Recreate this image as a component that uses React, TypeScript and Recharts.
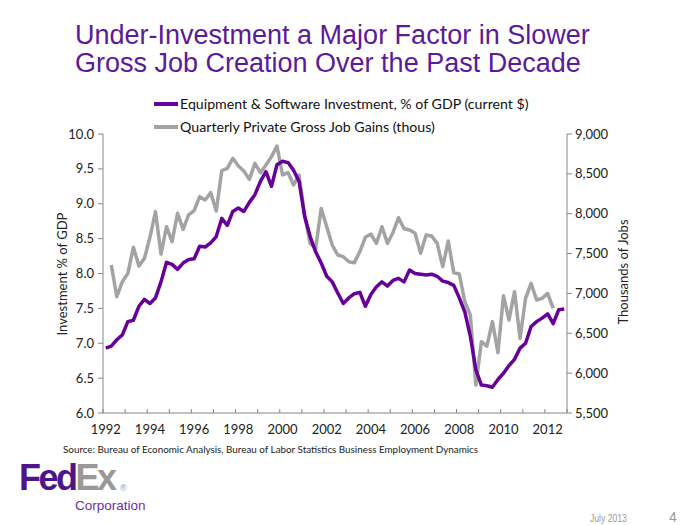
import React from 'react';
import { LineChart, Line, XAxis, YAxis, Legend } from 'recharts';

// quarterly, 1992Q1 .. 2012Q4
const startYear = 1992;
const investmentPct = [
  6.93, 6.96, 7.05, 7.12, 7.31, 7.33, 7.53, 7.63, 7.57, 7.65, 7.88, 8.16,
  8.13, 8.06, 8.15, 8.2, 8.21, 8.39, 8.38, 8.44, 8.53, 8.79, 8.69, 8.89,
  8.94, 8.89, 9.02, 9.13, 9.32, 9.46, 9.25, 9.56, 9.61, 9.59, 9.48, 9.32,
  8.82, 8.53, 8.31, 8.15, 7.96, 7.88, 7.72, 7.57, 7.65, 7.71, 7.73, 7.53,
  7.7, 7.81, 7.88, 7.82, 7.9, 7.93, 7.88, 8.05, 8.0, 7.99, 7.98, 7.99,
  7.96, 7.89, 7.87, 7.83, 7.65, 7.45, 7.1, 6.62, 6.4, 6.39, 6.37, 6.48,
  6.57, 6.68, 6.77, 6.93, 7.0, 7.24, 7.31, 7.36, 7.42, 7.28, 7.48, 7.49,
];
const jobGains: (number | null)[] = [
  null, 7357, 6959, 7147, 7252, 7578, 7344, 7440, 7704, 8026, 7494, 7837,
  7649, 8005, 7804, 7984, 8038, 8214, 8172, 8264, 8034, 8540, 8569, 8695,
  8599, 8535, 8431, 8632, 8515, 8611, 8716, 8849, 8486, 8515, 8360, 8486,
  7984, 7628, 7566, 8067, 7837, 7607, 7482, 7461, 7398, 7386, 7524, 7704,
  7745, 7628, 7837, 7628, 7765, 7950, 7812, 7796, 7754, 7503, 7733, 7720,
  7628, 7336, 7658, 7260, 7244, 6896, 6729, 5851, 6395, 6340, 6646, 6257,
  6972, 6667, 7022, 6436, 6938, 7127, 6917, 6938, 7001, 6813, null, null,
];
const leftTicks = [6, 6.5, 7, 7.5, 8, 8.5, 9, 9.5, 10];
const rightTicks = [5500, 6000, 6500, 7000, 7500, 8000, 8500, 9000];

const PURPLE = '#660099';
const GRAY = '#A3A3A3';
const AXIS = '#888888';
const FONT = 'Lato, "Open Sans", sans-serif';
const ARIAL = '"Liberation Sans", Arial, sans-serif';

const data = investmentPct.map((v, i) => ({ i, inv: v, jobs: jobGains[i] }));

// tick marks between years, labels every two years on the first quarter
const boundaryTicks = Array.from({ length: investmentPct.length / 4 + 1 }, (_, k) => k * 4 - 0.5);
const labelTicks = Array.from({ length: 11 }, (_, k) => k * 8);

const legendItems = [
  { label: 'Equipment & Software Investment, % of GDP (current $)', color: PURPLE },
  { label: 'Quarterly Private Gross Job Gains (thous)', color: GRAY },
];

const XTick = (props: any) => {
  const { x, y, payload } = props;
  const v = payload.value;
  if (Number.isInteger(v)) {
    return (
      <text x={x} y={y + 21} textAnchor="middle" fontSize={13} fill="#222" fontFamily={FONT}>
        {startYear + v / 4}
      </text>
    );
  }
  return <line x1={x} x2={x} y1={y} y2={y - 4} stroke={AXIS} />;
};

const renderLegend = () => (
  <div style={{ fontFamily: FONT, fontSize: 14.2, color: '#111' }}>
    {legendItems.map((it) => (
      <div key={it.label} style={{ display: 'flex', alignItems: 'center', height: 23, whiteSpace: 'nowrap' }}>
        <span style={{ display: 'inline-block', width: 24, height: 4, background: it.color, marginRight: 2 }} />
        {it.label}
      </div>
    ))}
  </div>
);

export default function App() {
  return (
    <div style={{ position: 'absolute', left: 0, top: 0, width: 700, height: 525, background: '#fff', overflow: 'hidden' }}>
      <div
        style={{
          position: 'absolute', left: 75, top: 21, fontFamily: ARIAL,
          fontSize: 27, lineHeight: '28px', color: '#5B1A98', whiteSpace: 'nowrap',
        }}
      >
        Under-Investment a Major Factor in Slower
        <br />
        Gross Job Creation Over the Past Decade
      </div>

      <LineChart width={700} height={525} data={data} margin={{ top: 134, right: 73, bottom: 82, left: 43 }}>
        <XAxis
          dataKey="i"
          type="number"
          domain={[-0.5, investmentPct.length - 0.5]}
          ticks={[...boundaryTicks, ...labelTicks]}
          interval={0}
          tick={<XTick />}
          tickLine={false}
          tickSize={0}
          tickMargin={0}
          height={30}
          stroke={AXIS}
        />
        <YAxis
          yAxisId="left"
          domain={[6, 10]}
          ticks={leftTicks}
          interval={0}
          tickFormatter={(v: number) => v.toFixed(1)}
          width={60}
          tickSize={5}
          tickMargin={4}
          stroke={AXIS}
          tick={{ fill: '#222', fontSize: 13, fontFamily: FONT }}
        />
        <YAxis
          yAxisId="right"
          orientation="right"
          domain={[5500, 9000]}
          ticks={rightTicks}
          interval={0}
          tickFormatter={(v: number) => v.toLocaleString('en-US')}
          width={60}
          tickSize={5}
          tickMargin={3}
          stroke={AXIS}
          tick={{ fill: '#222', fontSize: 13, fontFamily: FONT }}
        />
        <Legend
          layout="vertical"
          align="center"
          verticalAlign="middle"
          content={renderLegend}
          wrapperStyle={{ left: 154, top: 92, width: 420 }}
        />
        <Line
          yAxisId="right"
          dataKey="jobs"
          stroke={GRAY}
          strokeWidth={3.5}
          dot={false}
          isAnimationActive={false}
          strokeLinejoin="round"
        />
        <Line
          yAxisId="left"
          dataKey="inv"
          stroke={PURPLE}
          strokeWidth={3.5}
          dot={false}
          isAnimationActive={false}
          strokeLinejoin="round"
        />
      </LineChart>

      <div
        style={{
          position: 'absolute', left: 62, top: 274, transform: 'translate(-50%, -50%) rotate(-90deg)',
          fontFamily: FONT, fontSize: 13, color: '#222', whiteSpace: 'nowrap',
        }}
      >
        Investment % of GDP
      </div>
      <div
        style={{
          position: 'absolute', left: 623, top: 272, transform: 'translate(-50%, -50%) rotate(-90deg)',
          fontFamily: FONT, fontSize: 13, color: '#222', whiteSpace: 'nowrap',
        }}
      >
        Thousands of Jobs
      </div>

      <div style={{ position: 'absolute', left: 63, top: 443, fontFamily: FONT, fontSize: 9.85, color: '#222', whiteSpace: 'nowrap' }}>
        Source: Bureau of Economic Analysis, Bureau of Labor Statistics Business Employment Dynamics
      </div>

      <div
        style={{
          position: 'absolute', left: 19, top: 462, fontFamily: ARIAL,
          fontWeight: 'bold', fontSize: 36, letterSpacing: -2.5, lineHeight: '32px', whiteSpace: 'nowrap',
        }}
      >
        <span style={{ color: '#4D148C' }}>Fed</span>
        <span style={{ color: '#999999' }}>Ex</span>
      </div>
      <div style={{ position: 'absolute', left: 120, top: 483, fontFamily: ARIAL, fontSize: 9, color: '#999', lineHeight: '10px' }}>
        ®
      </div>
      <div
        style={{
          position: 'absolute', left: 75, top: 498.5, fontFamily: ARIAL,
          fontSize: 13.5, lineHeight: '14px', color: '#6A2EA8', whiteSpace: 'nowrap',
        }}
      >
        Corporation
      </div>
      <div
        style={{
          position: 'absolute', left: 590, top: 513, fontFamily: ARIAL, fontSize: 10, color: '#999',
          whiteSpace: 'nowrap', transform: 'scaleX(0.86)', transformOrigin: 'left center',
        }}
      >
        July 2013
      </div>
      <div style={{ position: 'absolute', left: 669, top: 510, fontFamily: ARIAL, fontSize: 14, lineHeight: '14px', color: '#999' }}>
        4
      </div>
    </div>
  );
}
